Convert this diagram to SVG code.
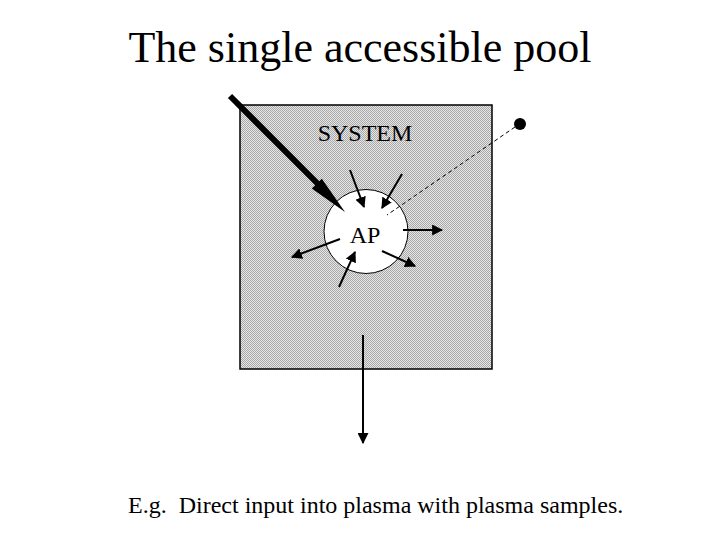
<svg xmlns="http://www.w3.org/2000/svg" width="720" height="540" viewBox="0 0 720 540">
<style>
text{font-family:"Liberation Serif","Times New Roman",serif;fill:#000}
.thin{stroke:#000;stroke-width:2;fill:none}
</style>
<defs>
<pattern id="chk" width="2" height="2" patternUnits="userSpaceOnUse">
<rect width="2" height="2" fill="#e6e6e6"/>
<rect width="1" height="1" fill="#a8a8a8"/>
<rect x="1" y="1" width="1" height="1" fill="#a8a8a8"/>
</pattern>
<marker id="ah" viewBox="0 0 10 10" refX="9" refY="5" markerWidth="5.5" markerHeight="5.5" orient="auto" markerUnits="strokeWidth">
<path d="M0,0 L10,5 L0,10 z" fill="#000"/>
</marker>
</defs>
<rect width="720" height="540" fill="#fff"/>
<text x="360" y="62" font-size="44" text-anchor="middle">The single accessible pool</text>
<g id="system">
<rect x="240" y="105" width="252" height="264" fill="url(#chk)" stroke="#000" stroke-width="1.5"/>
<text x="365" y="141" font-size="24" text-anchor="middle">SYSTEM</text>
</g>
<g id="ap">
<circle cx="366" cy="231.5" r="42" fill="#fff" stroke="#000" stroke-width="1"/>
<text x="365" y="243" font-size="24" text-anchor="middle">AP</text>
</g>
<g id="sample-point">
<circle cx="520" cy="124" r="6" fill="#000"/>
</g>
<g id="connectors">
<line x1="230" y1="96" x2="318" y2="184" stroke="#000" stroke-width="6"/>
<polygon points="345,212 311.8,188.5 321.8,178.7" fill="#000"/>
<line x1="515" y1="127" x2="387" y2="215" stroke="#000" stroke-width="1" stroke-dasharray="4,3"/>
<line class="thin" x1="350" y1="170" x2="364" y2="207" marker-end="url(#ah)"/>
<line class="thin" x1="402" y1="174" x2="382" y2="208" marker-end="url(#ah)"/>
<line class="thin" x1="403" y1="230" x2="442" y2="230" marker-end="url(#ah)"/>
<line class="thin" x1="340" y1="239" x2="292" y2="257" marker-end="url(#ah)"/>
<line class="thin" x1="382" y1="251" x2="415" y2="266" marker-end="url(#ah)"/>
<line class="thin" x1="339" y1="287" x2="355" y2="252" marker-end="url(#ah)"/>
<line class="thin" x1="363" y1="335" x2="363" y2="443" marker-end="url(#ah)"/>
</g>
<text x="128" y="513" font-size="24" xml:space="preserve">E.g.  Direct input into plasma with plasma samples.</text>
</svg>
